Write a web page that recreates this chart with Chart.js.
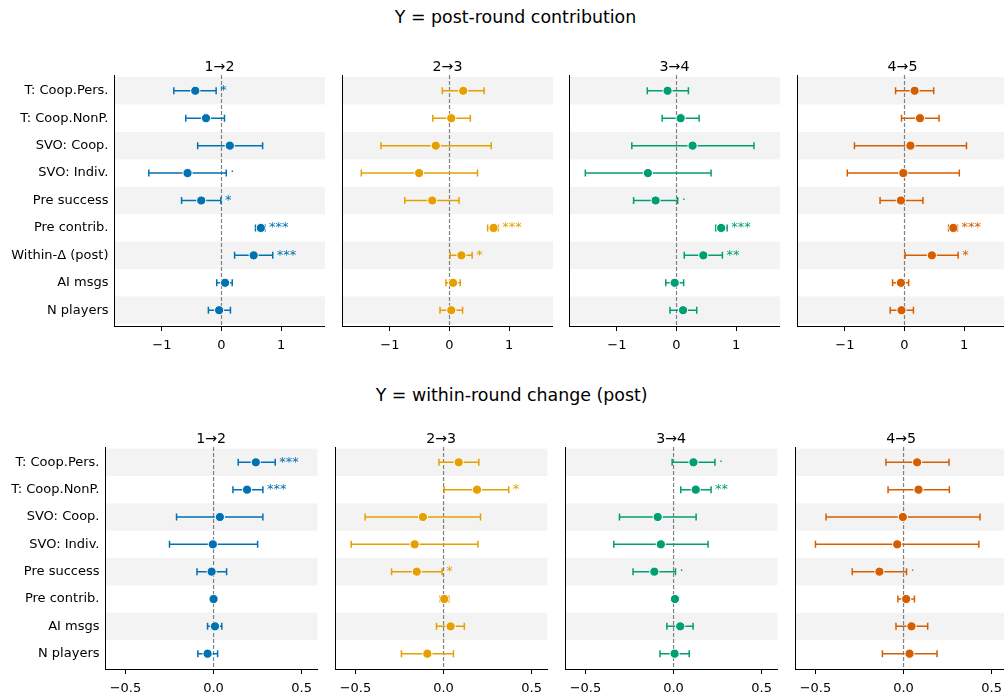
<!DOCTYPE html>
<html><head><meta charset="utf-8">
<script src="https://cdn.jsdelivr.net/npm/chart.js@4.4.1/dist/chart.umd.min.js"></script>
<style>
html,body{margin:0;padding:0;background:#fff;overflow:hidden;width:1004px;height:700px;}
.panel{position:absolute;}
.suptitle{position:absolute;font-family:'DejaVu Sans';font-size:17.4px;line-height:20px;color:#000;text-align:center;white-space:nowrap;width:400px;}
</style></head><body>
<div class="suptitle" style="left:315.5px;top:7.3px">Y = post-round contribution</div>
<div class="suptitle" style="left:311.7px;top:384.7px">Y = within-round change (post)</div>
<script>
// ---------- data ----------
const transitions = ['1→2', '2→3', '3→4', '4→5'];
const catsTop = ['T: Coop.Pers.', 'T: Coop.NonP.', 'SVO: Coop.', 'SVO: Indiv.', 'Pre success', 'Pre contrib.', 'Within-Δ (post)', 'AI msgs', 'N players'];
const catsBottom = ['T: Coop.Pers.', 'T: Coop.NonP.', 'SVO: Coop.', 'SVO: Indiv.', 'Pre success', 'Pre contrib.', 'AI msgs', 'N players'];
const topTickValues = [-1, 0, 1];
const topTickLabels = ['−1', '0', '1'];
const bottomTickValues = [-0.5, 0, 0.5];
const bottomTickLabels = ['−0.5', '0.0', '0.5'];

const topEst = [
  [-0.44, -0.26, 0.14, -0.57, -0.34, 0.66, 0.54, 0.06, -0.04],
  [0.23, 0.03, -0.23, -0.51, -0.29, 0.74, 0.20, 0.06, 0.03],
  [-0.15, 0.07, 0.27, -0.48, -0.35, 0.75, 0.45, -0.03, 0.11],
  [0.17, 0.26, 0.10, -0.02, -0.06, 0.82, 0.46, -0.06, -0.05]
];
const topLo = [
  [-0.80, -0.60, -0.40, -1.22, -0.67, 0.57, 0.22, -0.08, -0.22],
  [-0.12, -0.28, -1.15, -1.48, -0.75, 0.64, 0.01, -0.06, -0.16],
  [-0.49, -0.24, -0.75, -1.53, -0.72, 0.66, 0.13, -0.18, -0.11],
  [-0.15, -0.05, -0.84, -0.96, -0.41, 0.74, 0.01, -0.20, -0.24]
];
const topHi = [
  [-0.09, 0.05, 0.69, 0.08, -0.01, 0.73, 0.86, 0.18, 0.15],
  [0.58, 0.35, 0.70, 0.47, 0.16, 0.82, 0.38, 0.18, 0.22],
  [0.20, 0.38, 1.30, 0.58, 0.02, 0.85, 0.77, 0.12, 0.34],
  [0.49, 0.58, 1.04, 0.92, 0.31, 0.89, 0.90, 0.07, 0.15]
];
const topSig = [
  ['*', '', '', '·', '*', '***', '***', '', ''],
  ['', '', '', '', '', '***', '*', '', ''],
  ['', '', '', '', '·', '***', '**', '', ''],
  ['', '', '', '', '', '***', '*', '', '']
];

const bottomEst = [
  [0.24, 0.19, 0.036, -0.004, -0.011, 0.0, 0.008, -0.034],
  [0.086, 0.19, -0.117, -0.164, -0.152, 0.004, 0.04, -0.092],
  [0.113, 0.126, -0.09, -0.072, -0.109, 0.008, 0.038, 0.006],
  [0.077, 0.085, -0.004, -0.036, -0.137, 0.015, 0.045, 0.034]
];
const bottomLo = [
  [0.14, 0.11, -0.21, -0.25, -0.094, -0.005, -0.034, -0.089],
  [-0.026, 0.004, -0.445, -0.524, -0.295, -0.02, -0.04, -0.239],
  [-0.008, 0.041, -0.307, -0.339, -0.23, -0.002, -0.038, -0.077],
  [-0.10, -0.088, -0.44, -0.50, -0.291, -0.032, -0.043, -0.12]
];
const bottomHi = [
  [0.35, 0.28, 0.28, 0.25, 0.074, 0.005, 0.047, 0.023],
  [0.20, 0.37, 0.21, 0.195, -0.008, 0.03, 0.118, 0.056],
  [0.235, 0.213, 0.128, 0.196, 0.011, 0.018, 0.111, 0.089],
  [0.258, 0.26, 0.434, 0.427, 0.017, 0.062, 0.137, 0.19]
];
const bottomSig = [
  ['***', '***', '', '', '', '', '', ''],
  ['', '*', '', '', '*', '', '', ''],
  ['·', '**', '', '', '·', '', '', ''],
  ['', '', '', '', '·', '', '', '']
];

// ---------- style / layout ----------
const palette = ['#0072B2', '#E69F00', '#009E73', '#D55E00'];
const FONT = "'DejaVu Sans'";
Chart.defaults.font.family = FONT;
Chart.defaults.color = '#000';

const rows = [
  { lefts: [114, 342, 569, 797], width: 211, top: 75, height: 251,
    xMin: -1.804, xMax: 1.737, yMin: -0.575, yMax: 8.575,
    cats: catsTop, tickVals: topTickValues, tickLabels: topTickLabels,
    est: topEst, lo: topLo, hi: topHi, sig: topSig },
  { lefts: [105, 335, 565, 795], width: 214, top: 447, height: 222,
    xMin: -0.616, xMax: 0.589, yMin: -0.56, yMax: 7.56,
    cats: catsBottom, tickVals: bottomTickValues, tickLabels: bottomTickLabels,
    est: bottomEst, lo: bottomLo, hi: bottomHi, sig: bottomSig }
];

const PAD_TOP = 30, X_H = 40;

const forestPlugin = {
  id: 'forest',
  beforeDraw(chart) {
    const o = chart.options.plugins.forest;
    const { ctx, chartArea: a, scales: { y } } = chart;
    ctx.save();
    ctx.fillStyle = '#f3f3f3';
    for (let i = 0; i < o.n; i += 2) {
      const y0 = y.getPixelForValue(i - 0.5), y1 = y.getPixelForValue(i + 0.5);
      ctx.fillRect(a.left, Math.min(y0, y1), a.right - a.left, Math.abs(y1 - y0));
    }
    ctx.restore();
  },
  beforeDatasetsDraw(chart) {
    const o = chart.options.plugins.forest;
    const { ctx, chartArea: a, scales: { x, y } } = chart;
    ctx.save();
    const x0 = x.getPixelForValue(0);
    ctx.strokeStyle = '#808080';
    ctx.lineWidth = 1.2;
    ctx.setLineDash([4, 2]);
    ctx.beginPath(); ctx.moveTo(x0, a.top); ctx.lineTo(x0, a.bottom); ctx.stroke();
    ctx.setLineDash([]);
    ctx.strokeStyle = o.color;
    ctx.lineWidth = 1.5;
    o.lo.forEach((lo, i) => {
      const yy = y.getPixelForValue(i);
      const xl = x.getPixelForValue(lo), xh = x.getPixelForValue(o.hi[i]);
      ctx.beginPath();
      ctx.moveTo(xl, yy); ctx.lineTo(xh, yy);
      ctx.moveTo(xl, yy - 3.5); ctx.lineTo(xl, yy + 3.5);
      ctx.moveTo(xh, yy - 3.5); ctx.lineTo(xh, yy + 3.5);
      ctx.stroke();
    });
    ctx.restore();
  },
  afterDatasetsDraw(chart) {
    const o = chart.options.plugins.forest;
    const { ctx, chartArea: a, scales: { x, y } } = chart;
    ctx.save();
    ctx.fillStyle = o.color;
    ctx.font = '13px ' + FONT;
    ctx.textAlign = 'left';
    ctx.textBaseline = 'middle';
    o.sig.forEach((s, i) => {
      if (!s) return;
      ctx.fillText(s, x.getPixelForValue(o.hi[i]) + 4, y.getPixelForValue(i));
    });
    ctx.fillStyle = '#000';
    ctx.font = '14.2px ' + FONT;
    ctx.textAlign = 'center';
    ctx.textBaseline = 'alphabetic';
    ctx.fillText(o.title, (a.left + a.right) / 2, a.top - 4.3);
    ctx.restore();
  }
};

rows.forEach((r) => {
  for (let c = 0; c < 4; c++) {
    const yW = c === 0 ? r.lefts[0] : 8;
    const div = document.createElement('div');
    div.className = 'panel';
    div.style.left = (r.lefts[c] - yW) + 'px';
    div.style.top = (r.top - PAD_TOP) + 'px';
    div.style.width = (yW + r.width) + 'px';
    div.style.height = (PAD_TOP + r.height + X_H) + 'px';
    const cv = document.createElement('canvas');
    div.appendChild(cv);
    document.body.appendChild(div);
    const est = r.est[c];
    new Chart(cv, {
      type: 'scatter',
      data: { datasets: [{
        data: est.map((v, i) => ({ x: v, y: i })),
        backgroundColor: palette[c],
        borderColor: '#fff',
        borderWidth: 1,
        pointRadius: 4.6,
        pointHoverRadius: 4.6
      }] },
      options: {
        responsive: true, maintainAspectRatio: false, animation: false, events: [],
        layout: { autoPadding: false, padding: { top: PAD_TOP, left: 0, right: 0, bottom: 0 } },
        plugins: {
          legend: { display: false }, tooltip: { enabled: false },
          forest: { n: r.cats.length, color: palette[c], lo: r.lo[c], hi: r.hi[c], sig: r.sig[c], title: transitions[c] }
        },
        scales: {
          x: {
            type: 'linear', min: r.xMin, max: r.xMax,
            afterBuildTicks: s => { s.ticks = r.tickVals.map(v => ({ value: v })); },
            afterFit: s => { s.height = X_H; },
            ticks: { callback: (v) => r.tickLabels[r.tickVals.indexOf(v)], color: '#000', font: { size: 13 }, padding: 7, maxRotation: 0, autoSkip: false },
            grid: { display: true, drawOnChartArea: false, drawTicks: true, tickLength: 5, color: '#000', lineWidth: 1 },
            border: { display: true, color: '#000', width: 1 }
          },
          y: {
            type: 'linear', reverse: true, min: r.yMin, max: r.yMax,
            afterBuildTicks: s => { s.ticks = r.cats.map((_, i) => ({ value: i })); },
            afterFit: s => { s.width = yW; },
            ticks: { display: c === 0, callback: (v) => r.cats[v], color: '#000', font: { size: 13 }, padding: 5.5, autoSkip: false },
            grid: { display: false, drawTicks: false },
            border: { display: true, color: '#000', width: 1 }
          }
        }
      },
      plugins: [forestPlugin]
    });
  }
});
</script>
</body></html>
